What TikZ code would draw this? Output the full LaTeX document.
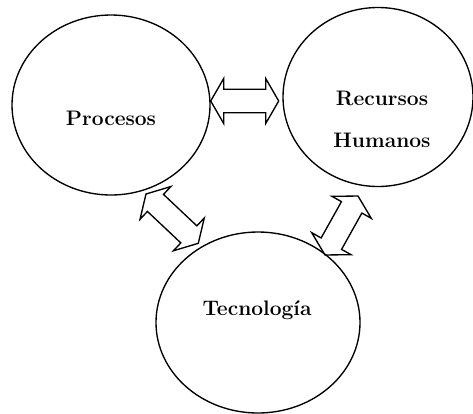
\documentclass[tikz,border=0pt]{standalone}
\usetikzlibrary{shapes.geometric,calc}
\tikzset{
  circ/.style={draw=black, line width=1.35pt, ellipse, inner sep=0pt},
  lbl/.style={font=\fontsize{21}{42}\selectfont\bfseries, inner sep=0pt, align=center},
  blk/.style={draw=black, line width=1.35pt, line join=miter},
}
\newcommand\blockarrow[2]{%
  \draw[blk] (#1)
    -- ($(#1)!13pt!(#2)!22.5pt!90:(#2)$)
    -- ($(#1)!13pt!(#2)!11.7pt!90:(#2)$)
    -- ($(#2)!13pt!(#1)!11.7pt!-90:(#1)$)
    -- ($(#2)!13pt!(#1)!22.5pt!-90:(#1)$)
    -- (#2)
    -- ($(#2)!13pt!(#1)!22.5pt!90:(#1)$)
    -- ($(#2)!13pt!(#1)!11.7pt!90:(#1)$)
    -- ($(#1)!13pt!(#2)!11.7pt!-90:(#2)$)
    -- ($(#1)!13pt!(#2)!22.5pt!-90:(#2)$)
    -- cycle;}
\begin{document}
\begin{tikzpicture}[x=1pt,y=-1pt]
\useasboundingbox (0,0) rectangle (473,413);
\node[circ, minimum width=198pt, minimum height=180pt] (proc) at (111,105) {};
\node[circ, minimum width=190pt, minimum height=179pt] (rh) at (378,97) {};
\node[circ, minimum width=204pt, minimum height=181pt] (tec) at (258,322.5) {};
\node[lbl] (tproc) at (111,118) {Procesos};
\node[lbl] (trh) at (382,119) {Recursos\\Humanos};
\node[lbl] (ttec) at (257,310) {Tecnología};
\coordinate (h1) at (210.7,101);
\coordinate (h2) at (278.7,101);
\coordinate (l1) at (146,194);
\coordinate (l2) at (198.3,243.3);
\coordinate (r1) at (325,255);
\coordinate (r2) at (358,196);
\blockarrow{h1}{h2}
\blockarrow{l1}{l2}
\blockarrow{r1}{r2}
\end{tikzpicture}
\end{document}
